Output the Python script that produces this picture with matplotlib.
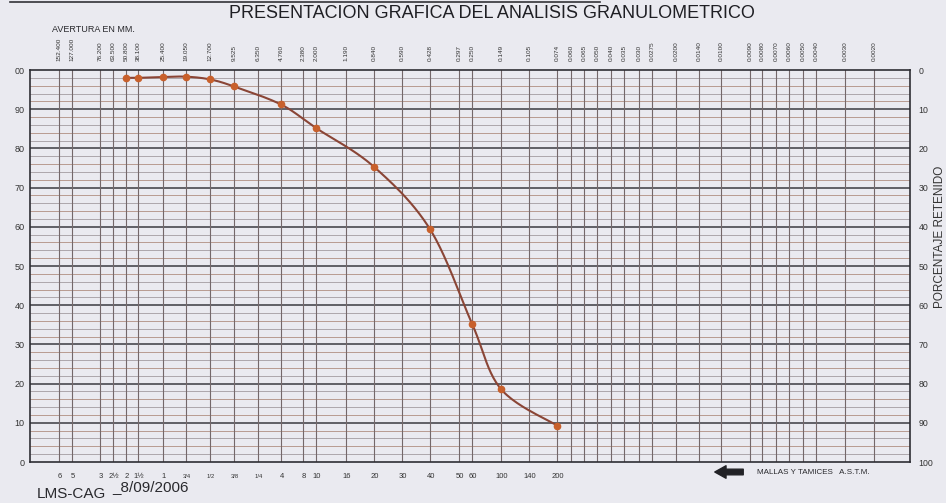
import numpy as np
import matplotlib
matplotlib.use("Agg")
import matplotlib.pyplot as plt
from matplotlib.patches import FancyArrowPatch
from matplotlib.lines import Line2D

plt.rcParams['font.family'] = ['Liberation Sans', 'DejaVu Sans']

# aberturas (mm) de cada columna de la grilla
col_mm = ["152.400", "127.000", "76.200", "63.500", "50.800", "38.100", "25.400",
          "19.050", "12.700", "9.525", "6.350", "4.760", "2.380", "2.000", "1.190",
          "0.840", "0.590", "0.428", "0.297", "0.250", "0.149", "0.105", "0.074",
          "0.060", "0.065", "0.050", "0.040", "0.035", "0.030", "0.0275", "0.0200",
          "0.0140", "0.0100", "0.0090", "0.0080", "0.0070", "0.0060", "0.0050",
          "0.0040", "0.0030", "0.0020"]
# posicion horizontal de cada columna en la hoja (px)
col_x = [59, 72, 100, 113, 126, 138, 163, 186, 210, 234, 258, 281, 303, 316, 346,
         374, 402, 430, 459, 472, 501, 529, 557, 571, 584, 597, 611, 624, 639, 652,
         676, 699, 721, 750, 762, 776, 789, 803, 816, 845, 874]

# mallas ASTM bajo las primeras columnas
mallas = ["6", "5", "3", "2½", "2", "1½", "1", "3/4", "1/2", "3/8", "1/4", "4", "8",
          "10", "16", "20", "30", "40", "50", "60", "100", "140", "200"]

# resultados del ensayo
tamiz_mm = ["50.800", "38.100", "25.400", "19.050", "12.700", "9.525", "4.760",
            "2.000", "0.840", "0.428", "0.250", "0.149", "0.074"]
pasa = [98.0, 98.0, 98.2, 98.3, 97.6, 95.8, 91.2, 85.2, 75.3, 59.4, 35.3, 18.6, 9.3]

W, H = 946, 503
paper = '#eaeaf0'
X0, X1 = 30, 910
Y_TOP, Y_BOT = 70, 462
ppu = (Y_BOT - Y_TOP) / 100.0


def fx(px):
    return px / W


def fy(py):
    return 1 - py / H


def catmull(xs, ys, n=25):
    pts = np.column_stack([xs, np.asarray(ys) * ppu])
    P = np.vstack([pts[0], pts, pts[-1]])
    t = np.linspace(0, 1, n)[:, None]
    segs = []
    for i in range(1, len(P) - 2):
        p0, p1, p2, p3 = P[i - 1], P[i], P[i + 1], P[i + 2]
        segs.append(0.5 * (2 * p1 + (-p0 + p2) * t
                           + (2 * p0 - 5 * p1 + 4 * p2 - p3) * t ** 2
                           + (-p0 + 3 * p1 - 3 * p2 + p3) * t ** 3))
    c = np.vstack(segs)
    return c[:, 0], c[:, 1] / ppu


fig = plt.figure(figsize=(W / 100, H / 100), dpi=100, facecolor=paper)
ax = fig.add_axes([fx(X0), fy(Y_BOT), (X1 - X0) / W, (Y_BOT - Y_TOP) / H])
ax.set_facecolor(paper)
ax.set_xlim(X0, X1)
ax.set_ylim(0, 100)

# grilla
for v in range(2, 100, 2):
    if v % 10 == 0:
        continue
    c = '#b08e82' if (v // 2) % 2 == 0 else '#a39ca0'
    ax.axhline(v, color=c, lw=0.6, zorder=1)
for v in range(10, 100, 10):
    ax.axhline(v, color='#3a3a40', lw=1.1, zorder=2)
for x in col_x:
    ax.axvline(x, color='#74686a', lw=0.8, zorder=2)
for s in ax.spines.values():
    s.set_color('#2e2e34')
    s.set_linewidth(1.2)

# curva granulometrica
px = [col_x[col_mm.index(m)] for m in tamiz_mm]
cx, cy = catmull(px, pasa)
ax.plot(cx, cy, color='#8a4536', lw=1.5, zorder=4)
ax.plot(px, pasa, 'o', color='#c8602c', ms=4.5, zorder=5)

ax.set_xticks([])
ax.set_yticks(range(0, 101, 10))
ax.set_yticklabels([str(v) for v in range(0, 100, 10)] + ['00'])
ax.tick_params(axis='y', length=0, pad=4, labelsize=6.5, colors='#333333')

ax2 = ax.twinx()
ax2.set_ylim(100, 0)
ax2.set_yticks(range(0, 101, 10))
ax2.tick_params(axis='y', length=0, pad=6, labelsize=6.3, colors='#333333')
for s in ax2.spines.values():
    s.set_visible(False)

# textos
fig.text(fx(492), fy(13), "PRESENTACION GRAFICA DEL ANALISIS GRANULOMETRICO",
         ha='center', va='center', fontsize=13, color='#1f1f24')
fig.text(fx(52), fy(30), "AVERTURA EN MM.", ha='left', va='center',
         fontsize=6.5, color='#2a2a2e')
for lab, x in zip(col_mm, col_x):
    fig.text(fx(x), fy(61), lab, rotation=90, ha='center', va='bottom',
             fontsize=4.6, color='#333333')
for lab, x in zip(mallas, col_x):
    fs = 4.2 if '/' in lab else 5.5
    fig.text(fx(x + 1), fy(477), lab, ha='center', va='center',
             fontsize=fs, color='#333333')

fig.text(fx(940), fy(237), "PORCENTAJE RETENIDO", rotation=90, ha='center',
         va='center', fontsize=8.5, color='#333333')
fig.text(fx(757), fy(472), "MALLAS Y TAMICES   A.S.T.M.", ha='left',
         va='center', fontsize=5.8, color='#2a2a2e')
fig.add_artist(FancyArrowPatch((fx(746), fy(472)), (fx(712), fy(472)),
                               transform=fig.transFigure,
                               arrowstyle='simple,tail_width=0.45,head_width=1.0,head_length=0.9',
                               mutation_scale=9, color='#222226'))

fig.text(fx(37), fy(494), "LMS-CAG", ha='left', va='center', fontsize=11,
         color='#2a2a2e')
fig.text(fx(112), fy(487), "_8/09/2006", ha='left', va='center', fontsize=11,
         color='#2a2a2e')

fig.add_artist(Line2D([fx(10), fx(600)], [fy(2), fy(2)], color='#333338',
                      lw=1.2, transform=fig.transFigure))

fig.savefig("out.png", dpi=100, facecolor=paper)
